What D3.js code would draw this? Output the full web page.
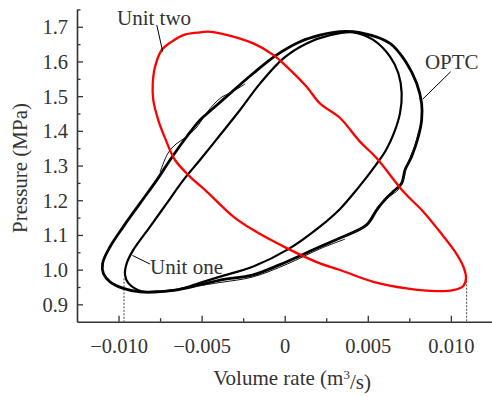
<!DOCTYPE html>
<html>
<head>
<meta charset="utf-8">
<script src="https://cdn.jsdelivr.net/npm/d3@7"></script>
<style>
  body { margin: 0; background: #fff; }
  svg { display: block; font-family: "Liberation Serif", "Times New Roman", serif; }
</style>
</head>
<body>
<div id="chart"></div>
<script>
// values: [volume rate (m^3/s), pressure (MPa)]
const unitTwo = [
  [-0.00510, 1.684], [-0.00461, 1.686], [-0.00389, 1.681], [-0.00189, 1.652],
  [-0.00069, 1.619], [0.00012, 1.585], [0.00132, 1.527], [0.00212, 1.479],
  [0.00333, 1.437], [0.00453, 1.369], [0.00554, 1.321], [0.00714, 1.225],
  [0.00834, 1.167], [0.00934, 1.109], [0.01025, 1.052], [0.01075, 1.009],
  [0.01091, 0.975], [0.01075, 0.953], [0.01014, 0.941], [0.00915, 0.938],
  [0.00734, 0.946], [0.00533, 0.965], [0.00333, 0.999], [0.00212, 1.018],
  [0.00012, 1.062], [-0.00189, 1.114], [-0.00309, 1.153], [-0.00469, 1.225],
  [-0.00570, 1.268], [-0.00660, 1.316], [-0.00720, 1.379], [-0.00761, 1.431],
  [-0.00791, 1.489], [-0.00794, 1.537], [-0.00780, 1.585], [-0.00740, 1.633],
  [-0.00680, 1.657], [-0.00610, 1.676]
];

const unitOne = [
  [0.00413, 1.684], [0.00533, 1.662], [0.00634, 1.614], [0.00684, 1.566],
  [0.00704, 1.508], [0.00694, 1.451], [0.00658, 1.394], [0.00610, 1.345],
  [0.00549, 1.302], [0.00441, 1.235], [0.00333, 1.175], [0.00212, 1.124],
  [0.00022, 1.059], [-0.00189, 1.009], [-0.00389, 0.980], [-0.00510, 0.962],
  [-0.00630, 0.944], [-0.00750, 0.937], [-0.00841, 0.936], [-0.00891, 0.943],
  [-0.00941, 0.961], [-0.00961, 0.985], [-0.00951, 1.018], [-0.00911, 1.057],
  [-0.00810, 1.124], [-0.00710, 1.191], [-0.00610, 1.258], [-0.00510, 1.316],
  [-0.00389, 1.388], [-0.00269, 1.460], [-0.00149, 1.536], [-0.00008, 1.609],
  [0.00132, 1.652], [0.00273, 1.676]
];

const optc = [
  [0.00333, 1.686], [0.00453, 1.683], [0.00634, 1.652], [0.00734, 1.595],
  [0.00794, 1.537], [0.00824, 1.479], [0.00824, 1.431], [0.00804, 1.383],
  [0.00764, 1.326], [0.00724, 1.287], [0.00704, 1.249], [0.00653, 1.225],
  [0.00593, 1.196], [0.00554, 1.172], [0.00493, 1.129], [0.00333, 1.091],
  [0.00212, 1.066], [0.00012, 1.023], [-0.00189, 0.985], [-0.00389, 0.970],
  [-0.00510, 0.956], [-0.00670, 0.940], [-0.00871, 0.936], [-0.00971, 0.946],
  [-0.01051, 0.965], [-0.01091, 0.989], [-0.01096, 1.018], [-0.01051, 1.066],
  [-0.00971, 1.124], [-0.00871, 1.191], [-0.00770, 1.258], [-0.00690, 1.316],
  [-0.00590, 1.383], [-0.00510, 1.431], [-0.00430, 1.465], [-0.00359, 1.495],
  [-0.00189, 1.566], [-0.00048, 1.619], [0.00092, 1.657], [0.00212, 1.676]
];

// extra OPTC cycles where the traces split apart
const optcLeftAlt = [
  [-0.00750, 1.281], [-0.00702, 1.336], [-0.00654, 1.362], [-0.00594, 1.382],
  [-0.00534, 1.408], [-0.00474, 1.449], [-0.00426, 1.477], [-0.00377, 1.498],
  [-0.00317, 1.512], [-0.00239, 1.535]
];
const optcRightAlt = [
  [0.00273, 1.080], [0.00393, 1.103], [0.00483, 1.126], [0.00525, 1.155],
  [0.00573, 1.189], [0.00634, 1.212], [0.00682, 1.230], [0.00718, 1.264],
  [0.00730, 1.293], [0.00754, 1.322], [0.00784, 1.359], [0.00808, 1.402]
];
const optcBottomAlt = [
  [-0.00570, 0.950], [-0.00389, 0.963], [-0.00191, 0.979], [0.00014, 1.016],
  [0.00212, 1.060], [0.00363, 1.088]
];

const dropLines = [[-0.00967, 0.975], [0.01095, 0.968]];

const labels = [
  { text: "Unit two", at: [-0.01009, 1.705], from: [-0.00770, 1.705], to: [-0.00734, 1.628] },
  { text: "OPTC", at: [0.00844, 1.578], from: [0.00999, 1.5705], to: [0.00830, 1.491] },
  { text: "Unit one", at: [-0.00810, 0.987], from: [-0.00810, 1.016], to: [-0.00916, 1.041] }
];

const xMajor = [-0.010, -0.005, 0, 0.005, 0.010];
const xMinor = [-0.0075, -0.0025, 0.0025, 0.0075];
const yMajor = [0.9, 1.0, 1.1, 1.2, 1.3, 1.4, 1.5, 1.6, 1.7];
const yMinor = [0.95, 1.05, 1.15, 1.25, 1.35, 1.45, 1.55, 1.65, 1.75];

const width = 492, height = 397;
const axisColor = "#333";

const svg = d3.select("#chart").append("svg")
  .attr("width", width)
  .attr("height", height);

const x = d3.scaleLinear().domain([-0.0125, 0.0125]).range([77, 492.4]);
const y = d3.scaleLinear().domain([0.85, 1.75]).range([321.7, 9.4]);

const closed = d3.line().x(d => x(d[0])).y(d => y(d[1])).curve(d3.curveCatmullRomClosed);
const open = d3.line().x(d => x(d[0])).y(d => y(d[1])).curve(d3.curveCatmullRom);

// axes, ticks pointing inward
svg.append("g")
  .attr("transform", `translate(0,${y(0.85)})`)
  .call(d3.axisBottom(x).tickValues(xMajor).tickSize(-6).tickSizeOuter(0).tickPadding(17)
    .tickFormat(d => d === 0 ? "0" : d3.format(".3f")(d)));
svg.append("g")
  .attr("transform", `translate(0,${y(0.85)})`)
  .call(d3.axisBottom(x).tickValues(xMinor).tickSize(-3.5).tickSizeOuter(0).tickFormat(""))
  .select(".domain").remove();

const yAxis = svg.append("g")
  .attr("transform", `translate(${x(-0.0125)},0)`)
  .call(d3.axisLeft(y).tickValues(yMajor).tickSize(-6).tickSizeOuter(0).tickPadding(9)
    .tickFormat(d3.format(".1f")));
svg.append("g")
  .attr("transform", `translate(${x(-0.0125)},0)`)
  .call(d3.axisLeft(y).tickValues(yMinor).tickSize(-3.5).tickSizeOuter(0).tickFormat(""))
  .select(".domain").remove();

svg.selectAll(".domain").attr("stroke", axisColor).attr("stroke-width", 1.6);
svg.selectAll(".tick line").attr("stroke", axisColor).attr("stroke-width", 1.3);
svg.selectAll(".tick text")
  .attr("fill", axisColor)
  .style("font-size", "20.5px")
  .style("font-family", "'Liberation Serif', 'Times New Roman', serif");
yAxis.selectAll(".tick text").attr("dy", "0.34em");

// drop lines to the axis
svg.append("g").selectAll("line")
  .data(dropLines)
  .join("line")
  .attr("x1", d => x(d[0])).attr("x2", d => x(d[0]))
  .attr("y1", d => y(d[1])).attr("y2", y(0.85))
  .attr("stroke", "#444")
  .attr("stroke-width", 1)
  .attr("stroke-dasharray", "2,1.5");

// curves
svg.append("path").attr("d", closed(optc))
  .attr("fill", "none").attr("stroke", "#000").attr("stroke-width", 2.8);
[optcLeftAlt, optcRightAlt, optcBottomAlt].forEach(seg => {
  svg.append("path").attr("d", open(seg))
    .attr("fill", "none").attr("stroke", "#111").attr("stroke-width", 1);
});
svg.append("path").attr("d", closed(unitOne))
  .attr("fill", "none").attr("stroke", "#000").attr("stroke-width", 2.2);
svg.append("path").attr("d", closed(unitTwo))
  .attr("fill", "none").attr("stroke", "#ff0000").attr("stroke-width", 2.3);

// annotations
const ann = svg.append("g");
ann.selectAll("line")
  .data(labels)
  .join("line")
  .attr("x1", d => x(d.from[0])).attr("y1", d => y(d.from[1]))
  .attr("x2", d => x(d.to[0])).attr("y2", d => y(d.to[1]))
  .attr("stroke", "#000").attr("stroke-width", 1);
ann.selectAll("text")
  .data(labels)
  .join("text")
  .attr("x", d => x(d.at[0])).attr("y", d => y(d.at[1]))
  .attr("fill", axisColor)
  .style("font-size", "21px")
  .text(d => d.text);

// axis titles
const xTitle = svg.append("text")
  .attr("x", 292).attr("y", 385)
  .attr("text-anchor", "middle")
  .attr("fill", axisColor)
  .style("font-size", "21px");
xTitle.append("tspan").text("Volume rate (m");
xTitle.append("tspan").text("3").attr("dy", "-0.5em").style("font-size", "13px");
xTitle.append("tspan").text("/s)").attr("dy", "0.5em");

svg.append("text")
  .attr("transform", "translate(27,168) rotate(-90)")
  .attr("text-anchor", "middle")
  .attr("fill", axisColor)
  .style("font-size", "21px")
  .text("Pressure (MPa)");
</script>
</body>
</html>
